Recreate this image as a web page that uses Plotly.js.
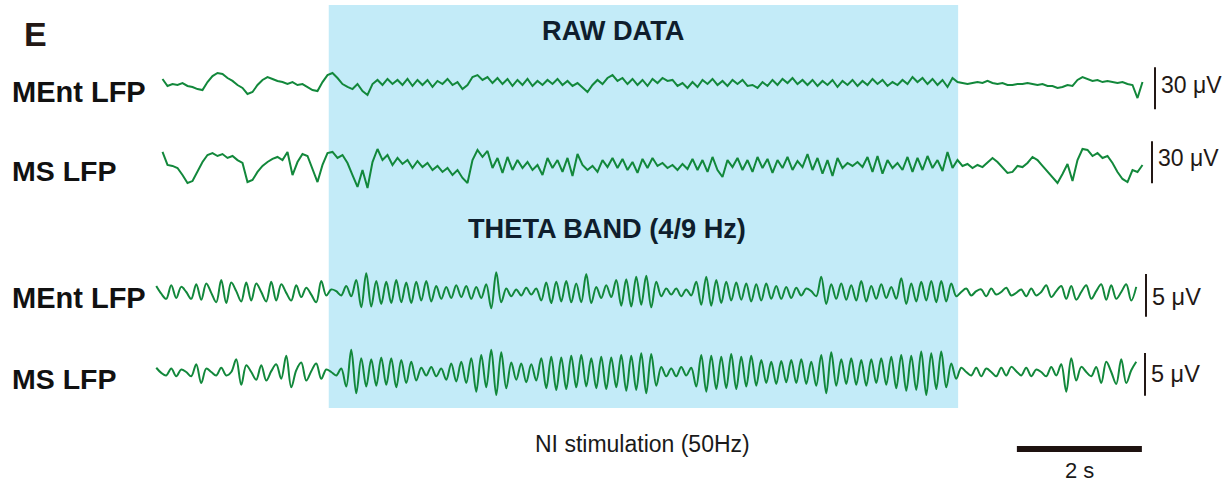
<!DOCTYPE html>
<html><head><meta charset="utf-8">
<script src="https://cdn.plot.ly/plotly-3.0.1.min.js"></script>
<style>html,body{margin:0;padding:0;background:#fff}#chart{width:1229px;height:486px}</style>
</head><body><div id="chart"></div>
<script>
// ---- data ----
const sampleInterval = 0.08;          // s between samples
const rawStart = 0.04;                // s
const thetaStart = -0.06;             // s
const stimOn = 2.70, stimOff = 12.77; // s, NI stimulation window
const timeBarStart = 13.71, timeBarLen = 2; // s
const rawBarUV = 30, thetaBarUV = 5;  // scale bars (µV)

const rowLabels = ['MEnt LFP', 'MS LFP', 'MEnt LFP', 'MS LFP'];
const sectionTitles = ['RAW DATA', 'THETA BAND (4/9 Hz)'];
const panelLetter = 'E';
const stimLabel = 'NI stimulation (50Hz)';
const timeBarLabel = '2 s';

// µV
const mentRaw = [4.3,-0.7,0.7,0,1.4,-0.7,-1.4,-2.9,-3.6,2.1,
 6.4,8.6,7.9,5.0,2.9,0,-2.1,-6.4,-5.0,0,
 3.6,5.7,4.3,2.9,2.1,0.7,2.1,0,0.7,-1.4,
 -3.6,-4.3,2.1,7.1,8.6,5.0,0.7,-1.4,-2.9,0.7,
 -4.3,-7.1,0.7,3.6,0,4.3,0.7,3.6,0,4.3,
 -0.7,3.6,0,3.6,-1.4,2.9,0.7,4.3,0,2.1,
 -2.9,0,5.7,7.1,3.6,5.7,1.4,5.0,0.7,4.3,
 -0.7,3.6,0,4.3,-0.7,2.9,0,3.6,0.7,4.3,
 0,2.9,-0.7,1.4,-2.1,-5.0,0,3.6,0.7,5.0,
 7.1,2.9,5.0,0.7,4.3,0,3.6,-0.7,4.3,1.4,
 5.0,2.9,3.6,-0.7,1.4,-2.1,2.1,-1.4,3.6,0.7,
 4.3,0,2.9,-0.7,3.6,0.7,3.6,-0.7,0,-2.1,
 2.1,-0.7,3.6,0,4.3,1.4,5.0,0.7,3.6,0,
 3.6,-0.7,2.9,0,3.6,-1.4,2.9,0,3.6,-0.7,
 2.9,0,4.3,0.7,3.6,-0.7,2.1,0,3.6,0.7,
 5.7,2.1,5.0,0.7,4.3,0,3.6,-1.4,5.0,2.1,
 1.4,0.7,1.4,2.1,1.4,2.9,1.4,0.7,1.4,0,
 0,0.7,0.7,1.4,0.7,0,0.7,-0.7,-0.7,-2.1,
 -1.4,0,-0.7,3.6,5.7,4.3,2.9,3.6,2.1,2.9,
 2.1,1.4,2.1,0.7,0,-9.3,2.1];

const msRaw = [7.9,-1.4,-2.1,-3.6,-8.6,-14.3,-12.9,-6.4,0.7,5.7,
 7.1,5.0,6.4,3.6,5.0,2.1,0,-13.6,-12.1,-6.4,
 -2.1,0.7,2.9,4.3,2.1,7.9,-8.6,0.7,6.4,5.0,
 -5.0,-13.6,-1.4,7.1,7.9,3.6,5.7,0,-8.6,-17.1,
 -5.0,-17.9,0.7,10.0,2.1,5.7,-1.4,3.6,-0.7,2.1,
 -3.6,1.4,-2.9,0,-5.0,-2.1,-6.4,-3.6,-8.6,-5.0,
 -10.7,-14.3,2.1,9.3,4.3,8.6,-3.6,3.6,-7.1,4.3,
 -5.0,2.1,-3.6,0.7,-5.0,-1.4,-8.6,3.6,-3.6,2.1,
 -6.4,3.6,-9.3,6.4,-1.4,-5.0,-2.1,-6.4,2.1,-2.9,
 3.6,-3.6,2.9,-5.0,0.7,-7.1,2.9,-3.6,3.6,-2.1,
 0,-3.6,-1.4,-5.0,-0.7,-4.3,2.9,-5.0,2.1,-6.4,
 4.3,-5.0,-10.0,2.1,-2.9,3.6,-5.0,2.1,-6.4,4.3,
 -3.6,2.9,-7.1,2.1,-3.6,4.3,-5.0,1.4,-2.9,6.4,
 -5.0,3.6,-7.7,2.1,-9.3,3.6,-3.6,0,-2.1,0.7,
 -2.9,4.3,-6.4,5.0,-7.7,2.1,-3.6,0,-5.0,4.3,
 -6.4,3.6,-5.0,5.0,-3.6,2.1,-5.7,7.9,-3.6,2.1,
 -2.1,-0.7,-3.6,-1.4,-2.9,0.7,3.6,0.7,-3.6,-7.1,
 -6.4,-2.1,-2.9,0,4.3,2.1,-2.1,-6.4,-10.7,-14.3,
 -7.9,-0.7,-12.9,2.1,10.0,9.3,5.0,7.1,3.6,5.0,
 0,-6.4,-11.4,-13.6,-5.0,-6.4,-1.4];

const mentTheta = [0.7,-0.2,-0.8,0.8,-0.7,0.6,0.0,-0.8,0.9,-0.9,
 1.0,-0.1,-1.2,1.4,-1.3,1.1,0.1,-1.1,1.1,-1.0,
 1.0,0.0,-1.1,1.2,-1.0,0.9,-0.1,-1.0,0.8,-0.6,
 0.5,-0.3,-1.2,1.3,-0.4,0.3,0.1,-0.4,0.7,-0.5,
 1.4,-1.8,2.2,
 -1.7,1.3,-1.4,1.2,-1.3,1.4,-1.2,1.1,-1.3,1.2,-1.0,1.3,-1.1,
 0.7,-0.8,0.6,-0.7,0.8,-0.6,0.7,-0.8,0.6,-0.7,0.9,
 -1.9,2.3,-1.2,
 0.4,-0.5,0.3,-0.4,0.5,-0.3,0.4,
 -1.0,1.1,-1.3,1.2,-1.1,1.3,-1.2,1.0,-1.2,
 2.1,-1.3,0.6,-0.7,0.8,-0.6,
 1.4,-1.6,1.5,-1.7,1.8,-1.5,1.9,-1.8,1.2,
 -0.5,0.4,-0.3,0.4,-0.5,0.3,-0.4,
 1.2,-1.5,1.8,-1.6,1.4,-1.3,1.2,
 -1.0,1.1,-0.9,1.0,-1.1,0.9,-1.0,1.0,-0.8,0.7,-0.8,0.6,-0.7,0.5,
 -0.4,0.4,0.1,-0.5,1.8,-1.4,
 0.9,-0.8,1.0,-0.9,0.8,-1.0,1.3,-1.1,
 0.7,-0.8,0.9,-0.7,0.6,-0.8,1.6,-1.4,1.0,
 -1.1,1.2,-1.0,1.3,-1.2,1.3,-1.1,1.0,
 -0.5,0.0,0.4,-0.4,0.1,0.3,-0.5,0.4,-0.3,0.0,
 0.5,-0.4,-0.1,0.3,-0.5,0.4,-0.4,0.0,0.8,-0.6,
 0.1,0.7,-0.8,0.7,-0.9,0.0,0.8,-0.8,0.1,0.9,
 -0.9,0.8,-0.8,0.0,0.9,-1.0,0.6];

const msTheta = [0.5,-0.1,-0.4,0.4,-0.5,0.3,0.0,-0.5,0.9,-1.3,
 0.4,0.0,-0.4,0.5,-0.4,0.0,1.5,-1.5,0.8,0.0,
 -0.9,0.8,-1.0,0.1,0.9,-0.8,1.9,-1.8,0.2,1.1,
 -1.0,0.1,1.0,-0.8,0.3,0.0,-0.4,0.4,
 -1.7,2.6,-2.5,1.6,
 -1.7,1.5,-1.6,1.7,-1.5,1.6,-1.8,1.4,-1.3,1.2,-1.0,
 0.5,-0.4,0.6,-0.5,0.4,
 -0.9,1.0,-1.1,1.2,-1.3,
 1.6,-2.3,2.0,-1.8,2.6,-2.7,2.3,-1.9,
 1.1,-0.9,1.0,-1.2,0.9,-1.0,
 1.6,-1.9,1.8,-2.1,1.7,-2.0,1.9,-1.8,2.0,-1.7,1.6,-1.9,1.8,-2.0,1.7,-1.8,2.0,-2.2,1.9,-2.1,2.2,-2.5,2.1,-1.6,
 0.6,-0.5,0.4,-0.5,0.6,-0.4,0.5,
 -1.7,2.0,-2.3,1.9,-2.0,1.8,-1.9,2.1,-2.0,1.8,-1.7,1.9,-1.6,
 1.4,-1.3,1.2,-1.4,1.3,-1.2,1.4,-1.3,1.5,-1.4,1.2,-1.6,
 2.0,-2.5,2.3,-1.6,
 1.5,-1.4,1.6,-1.5,1.4,-1.6,1.5,-1.3,1.6,-1.5,
 1.8,-1.9,2.0,-2.2,1.9,-2.1,2.4,-2.7,2.2,-2.0,2.4,-1.8,
 1.0,-0.8,
 0.5,0.0,-0.4,0.5,-0.5,0.4,0.0,-0.5,0.5,-0.4,
 0.6,0.1,-0.4,0.5,-0.5,0.3,0.0,-0.5,0.6,-0.4,
 0.9,-2.3,1.6,-1.0,0.6,0.0,-0.5,0.6,
 -1.3,1.2,0.0,-1.4,1.5,-1.3,0.2,1.2];

// ---- layout helpers (positions / styles) ----
const W = 1229, H = 486;
const PX_PER_S = 62.5, X0_PX = 160;
const xRange = [-X0_PX / PX_PER_S, (W - X0_PX) / PX_PER_S];
const px2t = px => (px - X0_PX) / PX_PER_S;
const GREEN = '#12883b', INK = '#231815', NAVY = '#0f1e2d';
const FONT = 'Liberation Sans, Arial, Helvetica, sans-serif';

const rows = [
  {vals: mentRaw,  t0: rawStart,   cPx: 85,  half: 36, k: 1.4,  bar: rawBarUV,   barX: 1155, barLo: -17.4, labX: 1159, labY: 0.0,  labelY: 92,  lsize: 29,   shape: 'linear', unit: '30', usize: 23},
  {vals: msRaw,    t0: rawStart,   cPx: 163, half: 36, k: 1.4,  bar: rawBarUV,   barX: 1152, barLo: -14.5, labX: 1156, labY: 3.9,  labelY: 171, lsize: 28.5, shape: 'linear', unit: '30', usize: 23},
  {vals: mentTheta,t0: thetaStart, cPx: 292, half: 36, k: 8.54, bar: thetaBarUV, barX: 1146, barLo: -2.9,  labX: 1150, labY: -0.55,labelY: 298, lsize: 29,   shape: 'spline', unit: '5',  usize: 23.5},
  {vals: msTheta,  t0: thetaStart, cPx: 372, half: 36, k: 8.54, bar: thetaBarUV, barX: 1145, barLo: -2.78, labX: 1149, labY: -0.23,labelY: 379, lsize: 28.5, shape: 'spline', unit: '5',  usize: 23.5}
];

const traces = [], shapes = [], annotations = [];
const layout = {
  width: W, height: H, margin: {l: 0, r: 0, t: 0, b: 0},
  paper_bgcolor: '#ffffff', plot_bgcolor: 'rgba(0,0,0,0)', showlegend: false,
  xaxis: {range: xRange, visible: false, fixedrange: true, domain: [0, 1]}
};

shapes.push({type: 'rect', xref: 'x', yref: 'paper', x0: stimOn, x1: stimOff,
  y0: 1 - 408 / H, y1: 1 - 5 / H, fillcolor: '#c3ebf8', line: {width: 0}, layer: 'below'});

rows.forEach((r, i) => {
  const yName = i === 0 ? 'y' : 'y' + (i + 1);
  const axKey = i === 0 ? 'yaxis' : 'yaxis' + (i + 1);
  layout[axKey] = {
    domain: [1 - (r.cPx + r.half) / H, 1 - (r.cPx - r.half) / H],
    range: [-r.half / r.k, r.half / r.k], visible: false, fixedrange: true, anchor: 'x'
  };
  const t = r.vals.map((_, j) => r.t0 + j * sampleInterval);
  traces.push({type: 'scatter', mode: 'lines', x: t, y: r.vals, xaxis: 'x', yaxis: yName,
    line: {color: GREEN, width: 2, shape: r.shape, smoothing: 1}, hoverinfo: 'skip'});
  shapes.push({type: 'line', xref: 'x', yref: yName, x0: px2t(r.barX), x1: px2t(r.barX),
    y0: r.barLo, y1: r.barLo + r.bar, line: {color: INK, width: 2}});
  annotations.push({xref: 'x', yref: yName, x: px2t(r.labX), y: r.labY, xanchor: 'left', yanchor: 'middle',
    text: r.unit + ' \u03bcV', showarrow: false, font: {family: FONT, size: r.usize, color: INK}});
  annotations.push({xref: 'paper', yref: 'paper', x: 10 / W, y: 1 - r.labelY / H, xanchor: 'left', yanchor: 'middle',
    text: rowLabels[i], showarrow: false, font: {family: FONT, size: r.lsize, color: '#111111', weight: 'bold'}});
});

annotations.push({xref: 'paper', yref: 'paper', x: 613 / W, y: 1 - 31 / H, xanchor: 'center', yanchor: 'middle',
  text: sectionTitles[0], showarrow: false, font: {family: FONT, size: 27.2, color: NAVY, weight: 'bold'}});
annotations.push({xref: 'paper', yref: 'paper', x: 607 / W, y: 1 - 228 / H, xanchor: 'center', yanchor: 'middle',
  text: sectionTitles[1], showarrow: false, font: {family: FONT, size: 27.2, color: NAVY, weight: 'bold'}});
annotations.push({xref: 'paper', yref: 'paper', x: 22 / W, y: 1 - 34 / H, xanchor: 'left', yanchor: 'middle',
  text: panelLetter, showarrow: false, font: {family: FONT, size: 34, color: INK, weight: 'bold'}});
annotations.push({xref: 'paper', yref: 'paper', x: 642 / W, y: 1 - 444 / H, xanchor: 'center', yanchor: 'middle',
  text: stimLabel, showarrow: false, font: {family: FONT, size: 23, color: '#1a1a1a'}});
annotations.push({xref: 'x', yref: 'paper', x: timeBarStart + timeBarLen / 2, y: 1 - 470 / H, xanchor: 'center', yanchor: 'middle',
  text: timeBarLabel, showarrow: false, font: {family: FONT, size: 22, color: '#1a1a1a'}});
shapes.push({type: 'line', xref: 'x', yref: 'paper', x0: timeBarStart, x1: timeBarStart + timeBarLen,
  y0: 1 - 449 / H, y1: 1 - 449 / H, line: {color: '#1e1210', width: 6}});

layout.shapes = shapes;
layout.annotations = annotations;
Plotly.newPlot('chart', traces, layout, {displayModeBar: false, staticPlot: true});
</script>
</body></html>
